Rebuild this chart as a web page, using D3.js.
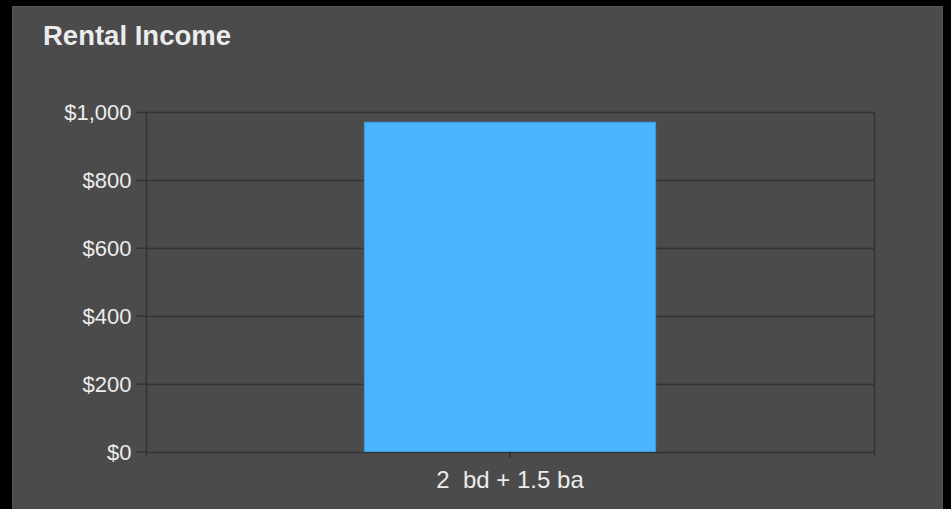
<!DOCTYPE html>
<html>
<head>
<meta charset="utf-8">
<script src="https://cdn.jsdelivr.net/npm/d3@7/dist/d3.min.js"></script>
<style>
  html, body { margin: 0; padding: 0; background: #000; }
  svg { display: block; }
  text { font-family: "Liberation Sans", Arial, sans-serif; fill: #ececec; }
</style>
</head>
<body>
<svg id="chart" width="951" height="509"></svg>
<script>
// Rental income by unit type
const categories = ["2  bd + 1.5 ba"];
const rentValues = [970];
const yTicks = [0, 200, 400, 600, 800, 1000];
const chartTitle = "Rental Income";

const W = 951, H = 509;
const margin = { left: 146, right: 77, top: 112, bottom: 57.5 };

const svg = d3.select("#chart");

// dark panel behind the chart
svg.append("rect")
  .attr("x", 12.5).attr("y", 6.5)
  .attr("width", 930).attr("height", 510)
  .attr("fill", "#4b4b4b")
  .attr("stroke", "#555555");

svg.append("text")
  .attr("x", 43).attr("y", 45)
  .attr("font-size", 27).attr("font-weight", "bold")
  .attr("textLength", 188).attr("lengthAdjust", "spacingAndGlyphs")
  .text(chartTitle);

const x = d3.scaleBand()
  .domain(categories)
  .range([margin.left, W - margin.right])
  .padding(0);

const y = d3.scaleLinear()
  .domain([0, 1000])
  .range([H - margin.bottom, margin.top]);

const gridColor = "#333333";

// horizontal grid
svg.append("g")
  .selectAll("line")
  .data(yTicks)
  .join("line")
  .attr("x1", margin.left).attr("x2", W - margin.right)
  .attr("y1", d => Math.round(y(d)) + 0.5).attr("y2", d => Math.round(y(d)) + 0.5)
  .attr("stroke", gridColor).attr("stroke-width", 1.5);

// bars
const barFrac = 0.4;
svg.append("g")
  .selectAll("rect")
  .data(categories.map((c, i) => ({ c, v: rentValues[i] })))
  .join("rect")
  .attr("x", d => x(d.c) + x.bandwidth() * (1 - barFrac) / 2)
  .attr("width", x.bandwidth() * barFrac)
  .attr("y", d => y(d.v))
  .attr("height", d => y(0) - y(d.v))
  .attr("fill", "#4ab4ff")
  .attr("stroke", "#3f9ad8").attr("stroke-width", 1);

// y axis
const yAxis = d3.axisLeft(y)
  .tickValues(yTicks)
  .tickFormat(d => "$" + d3.format(",")(d))
  .tickSize(10).tickSizeOuter(0).tickPadding(5);
const gy = svg.append("g")
  .attr("transform", `translate(${margin.left + 0.5},0)`)
  .call(yAxis);
gy.select(".domain").remove();
gy.selectAll(".tick line").attr("stroke", gridColor).attr("stroke-width", 1.5);
gy.selectAll(".tick text").attr("font-size", 22).attr("fill", "#ececec").attr("dy", "0.36em")
  .attr("font-family", "Liberation Sans, Arial, sans-serif");

// left and right frame lines, running slightly below the baseline
[margin.left + 0.5, W - margin.right + 0.5].forEach(px => {
  svg.append("line")
    .attr("x1", px).attr("x2", px)
    .attr("y1", margin.top).attr("y2", y(0) + 5.5)
    .attr("stroke", gridColor).attr("stroke-width", 1.5);
});

// x axis
const xAxis = d3.axisBottom(x).tickSize(5).tickSizeOuter(0).tickPadding(13);
const gx = svg.append("g")
  .attr("transform", `translate(0,${Math.round(y(0)) + 0.5})`)
  .call(xAxis);
gx.select(".domain").remove();
gx.selectAll(".tick line").attr("stroke", "#2a2a2a").attr("stroke-width", 1.5);
gx.selectAll(".tick text")
  .attr("font-size", 24).attr("fill", "#ececec")
  .attr("font-family", "Liberation Sans, Arial, sans-serif")
  .attr("xml:space", "preserve")
  .style("white-space", "pre");
</script>
</body>
</html>
